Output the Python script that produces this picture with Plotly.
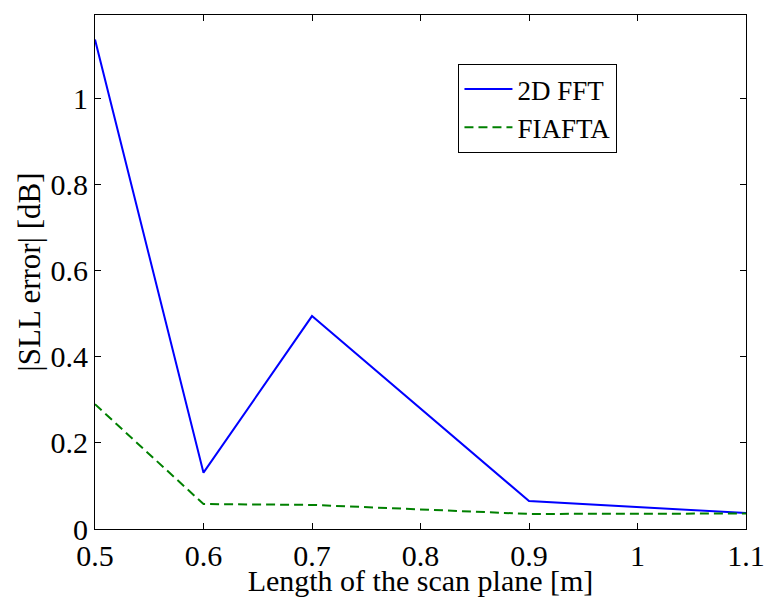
import plotly.graph_objects as go

x_vals = [0.5, 0.6, 0.7, 0.9, 1.1]
fft_vals = [1.138, 0.131, 0.495, 0.065, 0.037]
fiafta_vals = [0.29, 0.058, 0.056, 0.035, 0.036]

font_family = "Liberation Serif"

fig = go.Figure()
fig.add_trace(go.Scatter(x=x_vals, y=fft_vals, mode="lines", name="2D FFT",
                         line=dict(color="#0000ff", width=2)))
fig.add_trace(go.Scatter(x=x_vals, y=fiafta_vals, mode="lines", name="FIAFTA",
                         line=dict(color="#008000", width=2, dash="9px,5px")))

axis_common = dict(showgrid=False, zeroline=False, showline=True, linecolor="black",
                   linewidth=1.2, mirror="ticks", ticks="inside", ticklen=6, automargin=False,
                   tickcolor="black", tickfont=dict(family=font_family, size=30, color="black"))

fig.update_layout(
    width=767, height=597,
    margin=dict(l=95, r=21, t=15, b=68),
    paper_bgcolor="white", plot_bgcolor="white",
    font=dict(family=font_family, color="black", size=27),
    xaxis=dict(range=[0.5, 1.1], tick0=0.5, dtick=0.1, ticklabelstandoff=0,
               title=dict(text="Length of the scan plane [m]", font=dict(family=font_family, size=30), standoff=0),
               **axis_common),
    yaxis=dict(range=[0, 1.195], tick0=0, dtick=0.2,
               title=dict(text="|SLL error| [dB]", font=dict(family=font_family, size=31), standoff=0),
               **axis_common),
    legend=dict(x=0.558, y=0.905, xanchor="left", yanchor="top",
                bordercolor="black", borderwidth=1.2, bgcolor="white",
                font=dict(family=font_family, size=27), tracegroupgap=0,
                itemwidth=48),
    showlegend=True,
)

fig.write_html("out.html")
